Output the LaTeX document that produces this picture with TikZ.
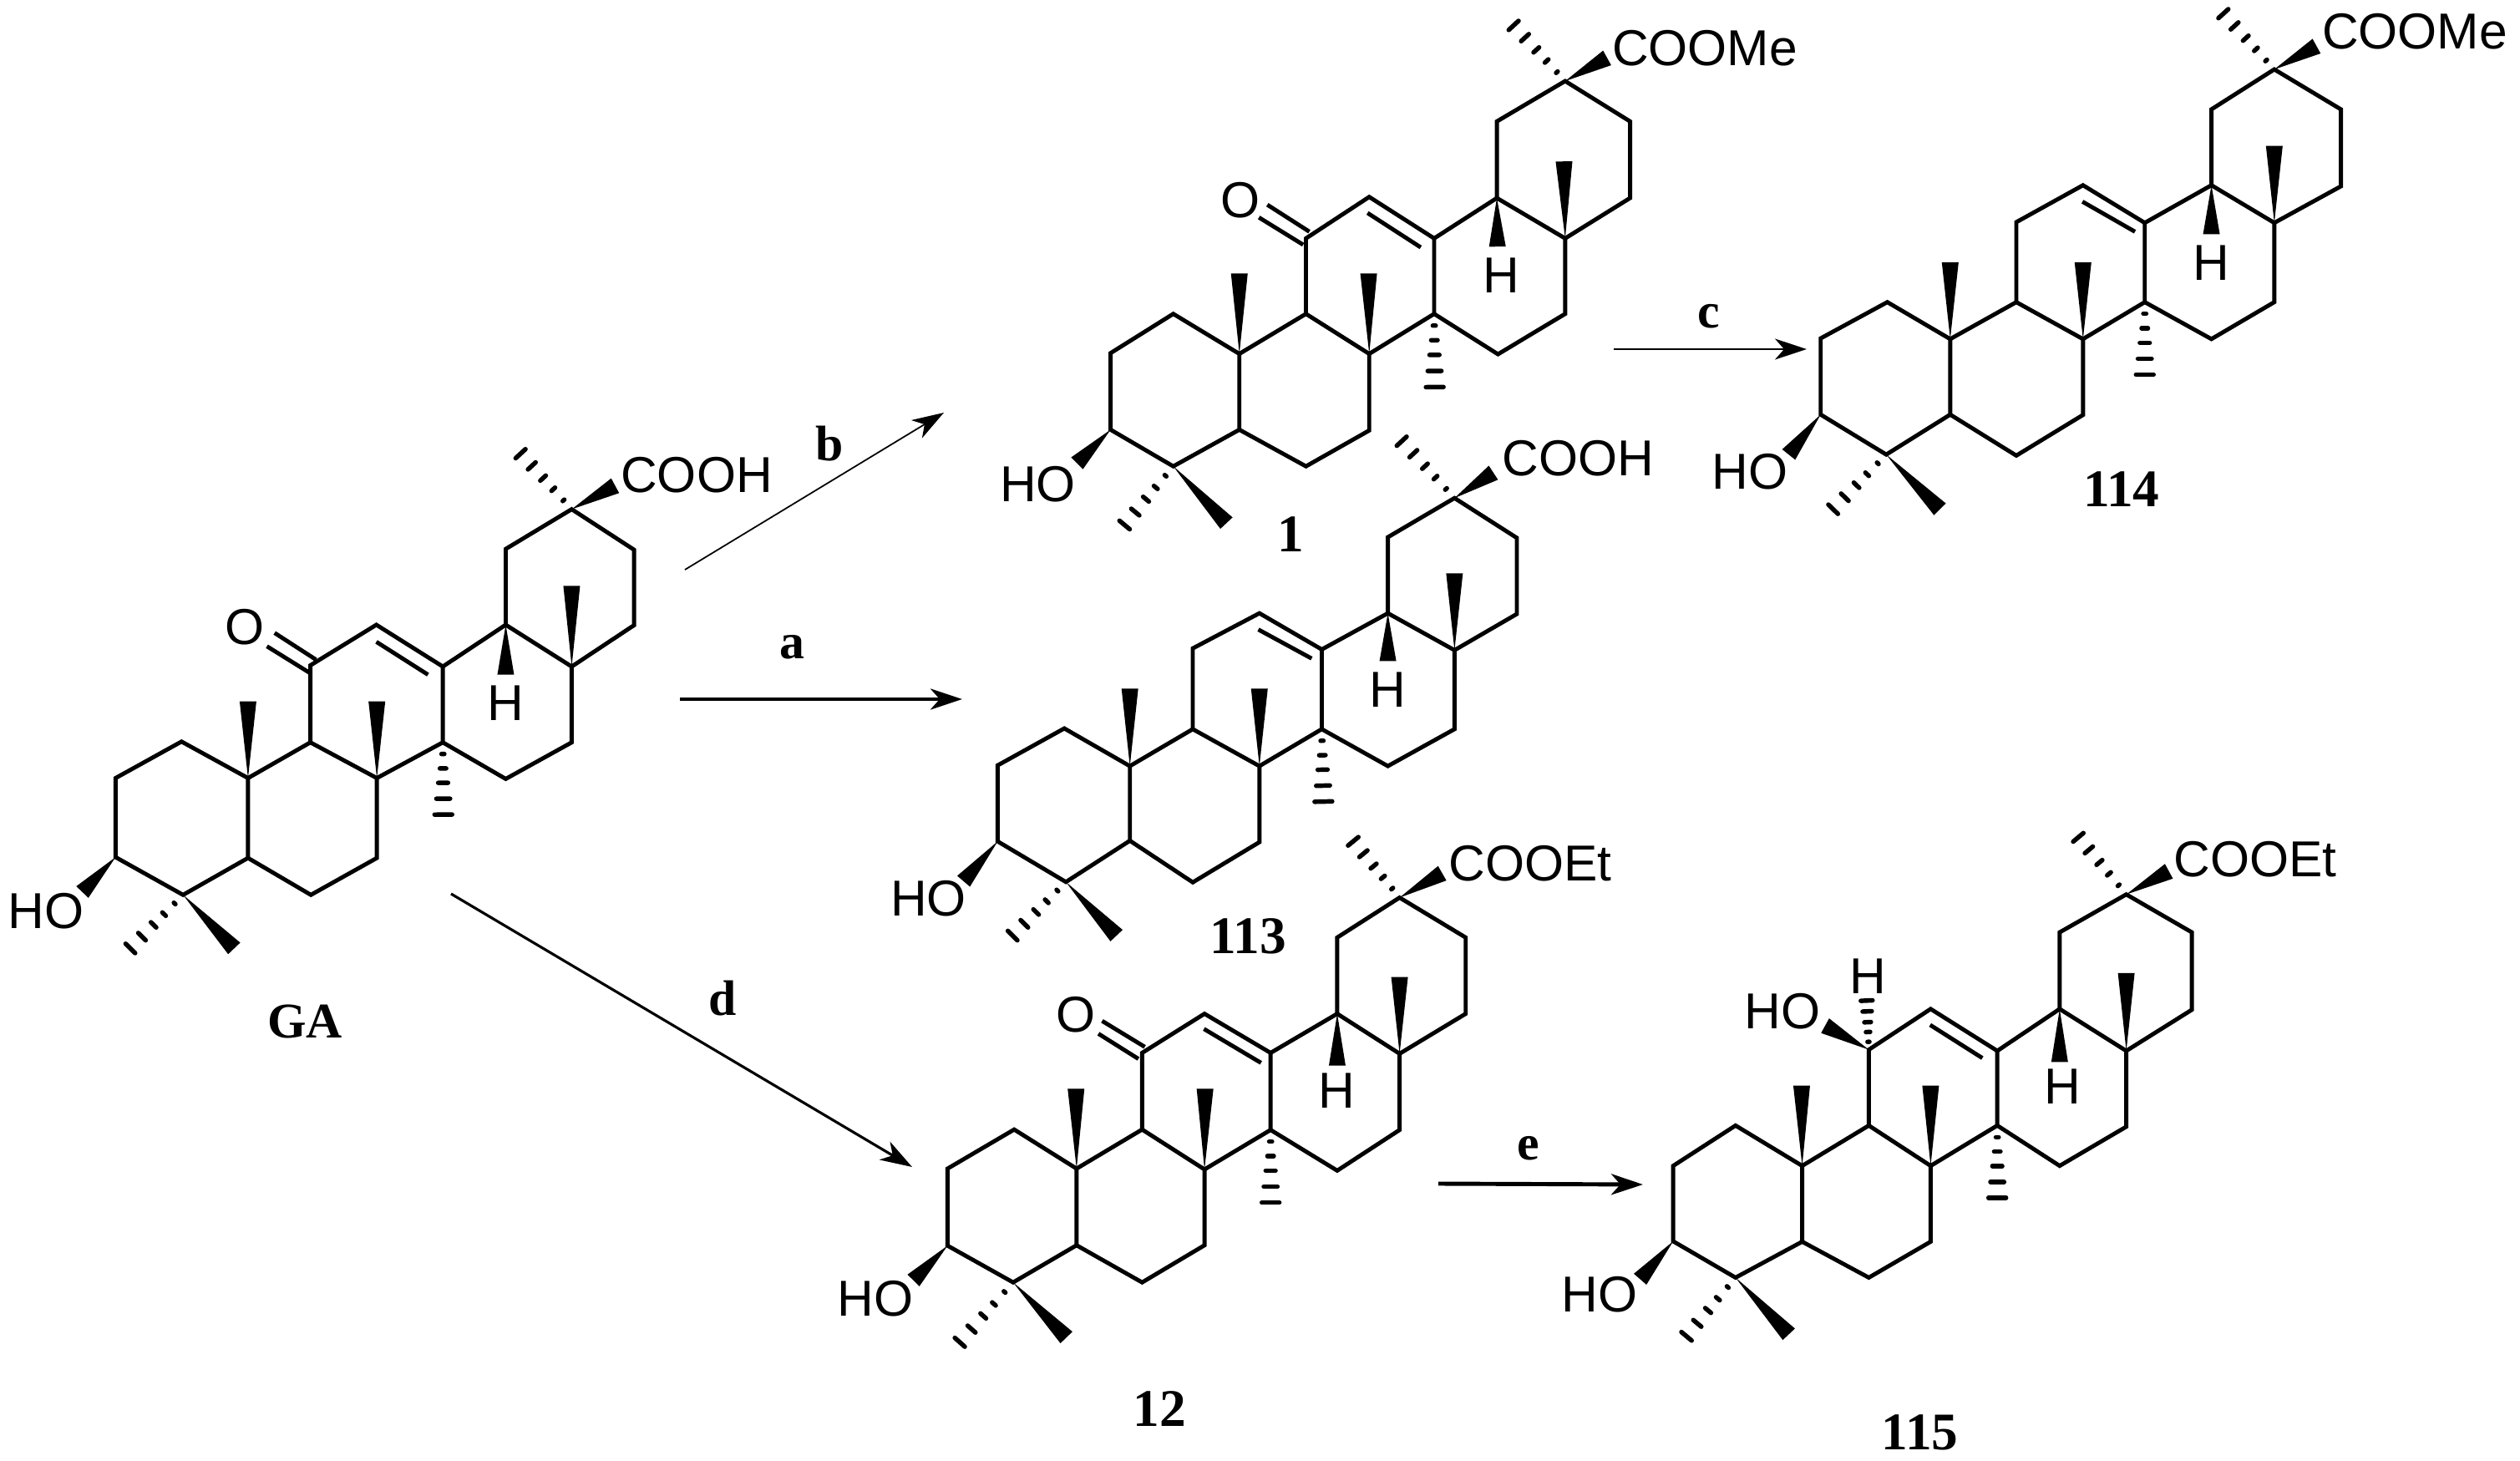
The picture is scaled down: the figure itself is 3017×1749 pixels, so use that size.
\documentclass[tikz,border=0pt]{standalone}
\usepackage{fontspec}
\setmainfont{Liberation Sans}
\newfontfamily\labelface{Liberation Serif}
\usetikzlibrary{calc,arrows.meta}
\tikzset{
  cropview/.style n args={4}{shift={(#1,#2)},x=#3cm,y=#4cm},
  bond/.style={line width=1.4pt,line join=miter,line cap=butt},
  chem/.style={font=\fontsize{17.2}{20}\selectfont,inner sep=0pt},
  compound/.style={font=\labelface\bfseries\fontsize{18}{20}\selectfont,inner sep=0pt},
  reagent/.style={font=\labelface\bfseries\fontsize{17}{20}\selectfont,inner sep=0pt},
  hashbar/.style={line width=1.55pt,line cap=round},
  rxn/.style={-{Stealth[length=3.8mm,width=2.5mm,inset=1.1mm]}}
}
\newcommand\atoms[1]{\foreach \n/\x/\y in {#1}{\coordinate (\n) at (\x,\y);}}
\newcommand\skel{%
  \draw[bond] (c3)--(c2)--(c1)--(c10)--(c5)--(c4)--cycle;
  \draw[bond] (c10)--(c9)--(c8)--(c7)--(c6)--(c5);
  \draw[bond] (c9)--(c11)--(c12)--(c13)--(c14)--(c8);
  \draw[bond] (c14)--(c15)--(c16)--(c17)--(c18)--(c13);
  \draw[bond] (c18)--(c19)--(c20)--(c21)--(c22)--(c17);
}
% solid wedge: tip at atom #1, flat end centred on #2
\newcommand\wdg[2]{\fill[black] (#1) -- ($(#2)!0.1cm!90:(#1)$) -- ($(#2)!0.1cm!-90:(#1)$) -- cycle;}
% hashed wedge from atom #1 to #2, half width #3 (cm)
\newcommand\hsh[3]{\foreach \t in {0.16,0.36,0.56,0.78,1}{%
  \pgfmathsetmacro\hw{\t*#3}
  \coordinate (hp) at ($(#1)!\t!(#2)$);
  \draw[hashbar] ($(hp)!\hw cm!90:(#1)$) -- ($(hp)!\hw cm!-90:(#1)$);}}
\begin{document}
\begin{tikzpicture}[x=0.01cm,y=-0.01cm]
\useasboundingbox (0,0) rectangle (3017,1749);
\fill[white] (0,0) rectangle (3017,1749);

% ---- GA
\begin{scope}[cropview={0}{480}{0.006122}{-0.004847}]
\atoms{c3/226/1125,c2/226/930,c1/355/840,c10/485/930,c5/485/1127,c4/358/1218,c9/607/842,c8/737/930,c7/737/1127,c6/608/1218,c11/607/652,c12/736/552,c13/866/655,c14/866/842,c18/989/552,c17/1118/655,c16/1118/842,c15/989/932,c19/989/365,c20/1118/267,c21/1240/367,c22/1240/553}
\skel
\draw[bond] (736,594)--(837,675);
\draw[bond] (522,605)--(605,670) (537,572)--(618,638);
\wdg{c10}{485,741}\wdg{c8}{737,741}\wdg{c17}{1118,456}\wdg{c18}{989,675}
\wdg{c3}{161,1211}\wdg{c4}{458,1350}\wdg{c20}{1203,209}
\hsh{c14}{867,1020}{0.105}\hsh{c4}{255,1350}{0.08}\hsh{c20}{1018,130}{0.08}
\node[chem] (gaO) at (478,558) {O};
\node[chem] (gaH) at (988,745) {H};
\node[chem] (gaHO) at (90,1258) {HO};
\node[chem,anchor=west] (gaR) at (1213,182) {COOH};
\node[compound,font=\labelface\bfseries\fontsize{17}{20}\selectfont] (gaL) at (596,1530) {GA};
\end{scope}

% ---- 1
\begin{scope}[cropview={1150}{0}{0.006696}{-0.004464}]
\atoms{c3/268/1150,c2/268/945,c1/380/840,c10/498/947,c5/498/1150,c4/380/1248,c9/617/840,c8/730/947,c7/730/1152,c6/617/1248,c11/617/638,c12/730/527,c13/846/638,c14/846/840,c18/958/530,c17/1080/638,c16/1080/840,c15/960/948,c19/958/325,c20/1080/217,c21/1196/325,c22/1196/530}
\skel
\draw[bond] (727,570)--(822,662);
\draw[bond] (533,582)--(612,655) (548,548)--(623,620);
\wdg{c10}{498,732}\wdg{c8}{729,732}\wdg{c17}{1078,432}\wdg{c18}{959,660}
\wdg{c3}{208,1240}\wdg{c4}{475,1400}\wdg{c20}{1155,155}
\hsh{c14}{847,1036}{0.105}\hsh{c4}{293,1405}{0.08}\hsh{c20}{988,68}{0.08}
\node[chem] (aO) at (500,535) {O};
\node[chem] (aH) at (966,737) {H};
\node[chem] (aHO) at (138,1295) {HO};
\node[chem,anchor=west] (aR) at (1163,128) {COOMe};
\node[compound] (aL) at (590,1430) {1};
\end{scope}

% ---- 114
\begin{scope}[cropview={2000}{0}{0.006486}{-0.004082}]
\atoms{c3/277/1213,c2/277/990,c1/400/884,c10/516/992,c5/516/1213,c4/398/1330,c9/638/884,c8/761/992,c7/761/1214,c6/638/1333,c11/638/650,c12/761/542,c13/875/652,c14/875/884,c18/998/542,c17/1114/652,c16/1114/884,c15/998/992,c19/998/320,c20/1114/203,c21/1237/320,c22/1237/545}
\skel
\draw[bond] (760,590)--(857,678);
\wdg{c10}{516,768}\wdg{c8}{761,768}\wdg{c17}{1114,427}\wdg{c18}{998,685}
\wdg{c3}{218,1330}\wdg{c4}{497,1490}\wdg{c20}{1192,135}
\hsh{c14}{875,1096}{0.105}\hsh{c4}{300,1490}{0.08}\hsh{c20}{1020,40}{0.08}
\node[chem] (bH) at (998,770) {H};
\node[chem] (bHO) at (146,1380) {HO};
\node[chem,anchor=west] (bR) at (1201,92) {COOMe};
\node[compound] (bL) at (832,1432) {114};
\end{scope}

% ---- 113
\begin{scope}[cropview={1040}{500}{0.006378}{-0.004337}]
\atoms{c3/242/1170,c2/242/960,c1/367/858,c10/490/962,c5/490/1168,c4/370/1282,c9/608/860,c8/733/962,c7/733/1172,c6/608/1283,c11/608/637,c12/733/540,c13/850/640,c14/850/860,c18/974/540,c17/1099/642,c16/1099/860,c15/974/962,c19/974/330,c20/1099/222,c21/1216/332,c22/1216/542}
\skel
\draw[bond] (731,585)--(831,665);
\wdg{c10}{490,748}\wdg{c8}{733,748}\wdg{c17}{1099,430}\wdg{c18}{974,672}
\wdg{c3}{178,1280}\wdg{c4}{465,1430}\wdg{c20}{1172,152}
\hsh{c14}{853,1060}{0.105}\hsh{c4}{270,1430}{0.08}\hsh{c20}{1000,65}{0.08}
\node[chem] (cH) at (973,752) {H};
\node[chem] (cHO) at (112,1328) {HO};
\node[chem,anchor=west] (cR) at (1188,113) {COOH};
\node[compound] (cL) at (712,1432) {113};
\end{scope}

% ---- 12
\begin{scope}[cropview={980}{1000}{0.006378}{-0.004777}]
\atoms{c3/242/1028,c2/242/835,c1/367/737,c10/484/835,c5/484/1027,c4/365/1120,c9/607/737,c8/724/837,c7/724/1027,c6/607/1120,c11/607/545,c12/724/447,c13/848/545,c14/848/738,c18/973/447,c17/1090/547,c16/1090/738,c15/973/840,c19/973/256,c20/1090/156,c21/1214/256,c22/1214/447}
\skel
\draw[bond] (723,485)--(830,570);
\draw[bond] (525,497)--(600,560) (532,465)--(612,530);
\wdg{c10}{483,635}\wdg{c8}{725,635}\wdg{c17}{1090,355}\wdg{c18}{973,577}
\wdg{c3}{178,1115}\wdg{c4}{465,1258}\wdg{c20}{1170,95}
\hsh{c14}{848,920}{0.105}\hsh{c4}{265,1270}{0.08}\hsh{c20}{1003,15}{0.08}
\node[chem] (dO) at (483,450) {O};
\node[chem] (dH) at (972,640) {H};
\node[chem] (dHO) at (107,1160) {HO};
\node[chem,anchor=west] (dR) at (1181,70) {COOEt};
\node[compound] (dL) at (640,1437) {12};
\end{scope}

% ---- 115
\begin{scope}[cropview={1850}{1000}{0.006378}{-0.004777}]
\atoms{c3/240/1017,c2/240/828,c1/357/727,c10/482/828,c5/482/1018,c4/357/1108,c9/607/727,c8/723/828,c7/723/1018,c6/607/1108,c11/607/537,c12/723/435,c13/848/540,c14/848/727,c18/965/435,c17/1090/540,c16/1090/730,c15/965/828,c19/965/243,c20/1090/148,c21/1213/243,c22/1213/437}
\skel
\draw[bond] (722,475)--(820,558);
\wdg{c10}{481,627}\wdg{c8}{723,627}\wdg{c17}{1090,345}\wdg{c18}{965,568}
\wdg{c3}{178,1112}\wdg{c4}{457,1250}\wdg{c20}{1170,90}\wdg{c11}{525,477}
\hsh{c14}{848,908}{0.105}\hsh{c4}{265,1255}{0.08}\hsh{c20}{1000,5}{0.08}\hsh{c11}{603,414}{0.07}
\node[chem] (eH) at (970,630) {H};
\node[chem] (eH2) at (605,352) {H};
\node[chem] (eHOa) at (445,440) {HO};
\node[chem] (eHO) at (102,1150) {HO};
\node[chem,anchor=west] (eR) at (1178,60) {COOEt};
\node[compound] (eL) at (703,1497) {115};
\end{scope}

% ---- arrows
\coordinate (bs) at (820,682);  \coordinate (be) at (1130,494);
\coordinate (as) at (814,837);  \coordinate (ae) at (1152,837);
\coordinate (cs) at (1932,418); \coordinate (ce) at (2163,418);
\coordinate (ds) at (540,1070); \coordinate (de) at (1092,1397);
\coordinate (es) at (1722,1417);\coordinate (ee) at (1967,1418);
\draw[rxn,line width=0.5pt] (bs)--(be);
\draw[rxn,line width=1.1pt] (as)--(ae);
\draw[rxn,line width=0.5pt] (cs)--(ce);
\draw[rxn,line width=0.9pt] (ds)--(de);
\draw[rxn,line width=1.4pt] (es)--(ee);
\node[reagent] (ra) at (948,775) {a};
\node[reagent] (rb) at (993,531) {b};
\node[reagent] (rc) at (2046,379) {c};
\node[reagent] (rd) at (865,1195) {d};
\node[reagent] (re) at (1830,1375) {e};
\end{tikzpicture}
\end{document}
